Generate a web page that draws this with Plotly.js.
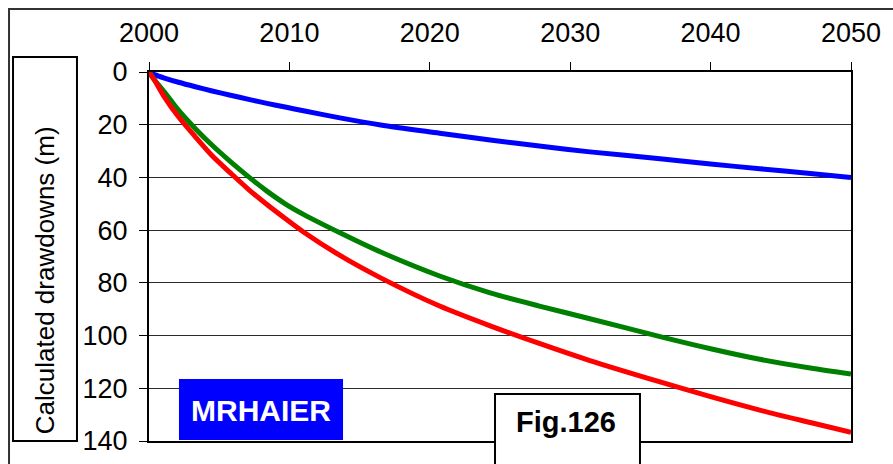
<!DOCTYPE html>
<html>
<head>
<meta charset="utf-8">
<script src="https://cdn.plot.ly/plotly-3.0.1.min.js"></script>
<style>
  html, body { margin: 0; padding: 0; background: #ffffff; }
  #chart { width: 893px; height: 464px; }
</style>
</head>
<body>
<div id="chart"></div>
<script>
// Data
const years = [2000, 2000.4, 2001.1, 2002.1, 2003.3, 2004.5, 2005.8, 2007.1, 2008.4, 2009.7, 2011.0, 2013.6, 2016.5, 2020.7, 2024.3, 2027.8, 2031.4, 2036.4, 2040, 2043.5, 2047.1, 2050];
const blueSeries  = [0, 1.0, 2.3, 3.9, 5.6, 7.2, 8.8, 10.4, 11.9, 13.3, 14.7, 17.4, 20.1, 23.2, 25.8, 28.1, 30.3, 32.9, 34.9, 36.7, 38.5, 40.0];
const greenSeries = [0, 3.0, 7.6, 14.5, 21.5, 27.8, 34.0, 39.8, 45.2, 50.0, 54.0, 61.0, 68.3, 77.4, 83.8, 88.8, 93.6, 100.4, 105.0, 109.0, 112.3, 114.6];
const redSeries   = [0, 3.2, 9.5, 17.0, 24.6, 31.8, 38.3, 44.6, 50.3, 55.6, 60.7, 69.6, 78.1, 88.8, 96.3, 103.0, 109.5, 117.6, 123.2, 128.3, 133.0, 136.7];
const xTicks = [2000, 2010, 2020, 2030, 2040, 2050];
const yTicks = [0, 20, 40, 60, 80, 100, 120, 140];
const yTitle = "Calculated drawdowns (m)";
const wellLabel = "MRHAIER";
const figLabel = "Fig.126";

const FONT = "Liberation Sans, Arial, sans-serif";

function line(y, color) {
  return {
    x: years, y: y, type: "scatter", mode: "lines",
    line: { color: color, width: 5, shape: "spline", smoothing: 0.8 },
    hoverinfo: "skip", showlegend: false
  };
}

const traces = [line(blueSeries, "#0000ff"), line(greenSeries, "#008000"), line(redSeries, "#ff0000")];

const layout = {
  width: 893, height: 464,
  margin: { l: 149, r: 42, t: 72, b: 23, pad: 0 },
  paper_bgcolor: "#ffffff", plot_bgcolor: "#ffffff",
  showlegend: false,
  font: { family: FONT, color: "#000000", size: 27 },
  xaxis: {
    side: "top", range: [2000, 2050],
    tickvals: xTicks, ticktext: xTicks.map(String),
    ticks: "outside", ticklen: 8, tickwidth: 1, tickcolor: "#000000",
    showgrid: false, zeroline: false,
    showline: true, linecolor: "#000000", linewidth: 2, mirror: true,
    tickfont: { family: FONT, size: 27, color: "#000000" },
    ticklabelstandoff: 9
  },
  yaxis: {
    range: [140, 0],
    tickvals: yTicks, ticktext: yTicks.map(String),
    ticks: "outside", ticklen: 8, tickwidth: 1, tickcolor: "#000000",
    showgrid: true, gridcolor: "#2a2a2a", gridwidth: 1,
    zeroline: false,
    showline: true, linecolor: "#000000", linewidth: 2, mirror: true,
    tickfont: { family: FONT, size: 27, color: "#000000" },
    ticklabelstandoff: 6
  },
  shapes: [
    // outer frame
    { type: "rect", xref: "paper", yref: "paper", x0: -0.1994, x1: 1.07, y0: -0.1, y1: 1.1707,
      line: { color: "#333333", width: 2 }, fillcolor: "rgba(0,0,0,0)", layer: "below" },
    // y title box
    { type: "rect", xref: "paper", yref: "paper", x0: -0.1937, x1: -0.1026, y0: 0, y1: 1.0407,
      line: { color: "#000000", width: 2 }, fillcolor: "#ffffff", layer: "above" },
    // well label box
    { type: "rect", xref: "paper", yref: "paper", x0: 0.0427, x1: 0.2764, y0: 0.003, y1: 0.168,
      line: { width: 0 }, fillcolor: "#0000ff", layer: "above" },
    // figure label box
    { type: "rect", xref: "paper", yref: "paper", x0: 0.4929, x1: 0.6994, y0: -0.1, y1: 0.1274,
      line: { color: "#000000", width: 2 }, fillcolor: "#ffffff", layer: "above" }
  ],
  annotations: [
    { text: yTitle, xref: "paper", yref: "paper", x: -0.148, y: 0.436,
      xanchor: "center", yanchor: "middle", textangle: -90, showarrow: false,
      font: { family: FONT, size: 26, color: "#000000" } },
    { text: "<b>" + wellLabel + "</b>", xref: "paper", yref: "paper", x: 0.1595, y: 0.084,
      xanchor: "center", yanchor: "middle", showarrow: false,
      font: { family: FONT, size: 30, color: "#ffffff" } },
    { text: "<b>" + figLabel + "</b>", xref: "paper", yref: "paper", x: 0.594, y: 0.0515,
      xanchor: "center", yanchor: "middle", showarrow: false,
      font: { family: FONT, size: 29, color: "#000000" } }
  ]
};

Plotly.newPlot("chart", traces, layout, { displayModeBar: false, staticPlot: true });
</script>
</body>
</html>
